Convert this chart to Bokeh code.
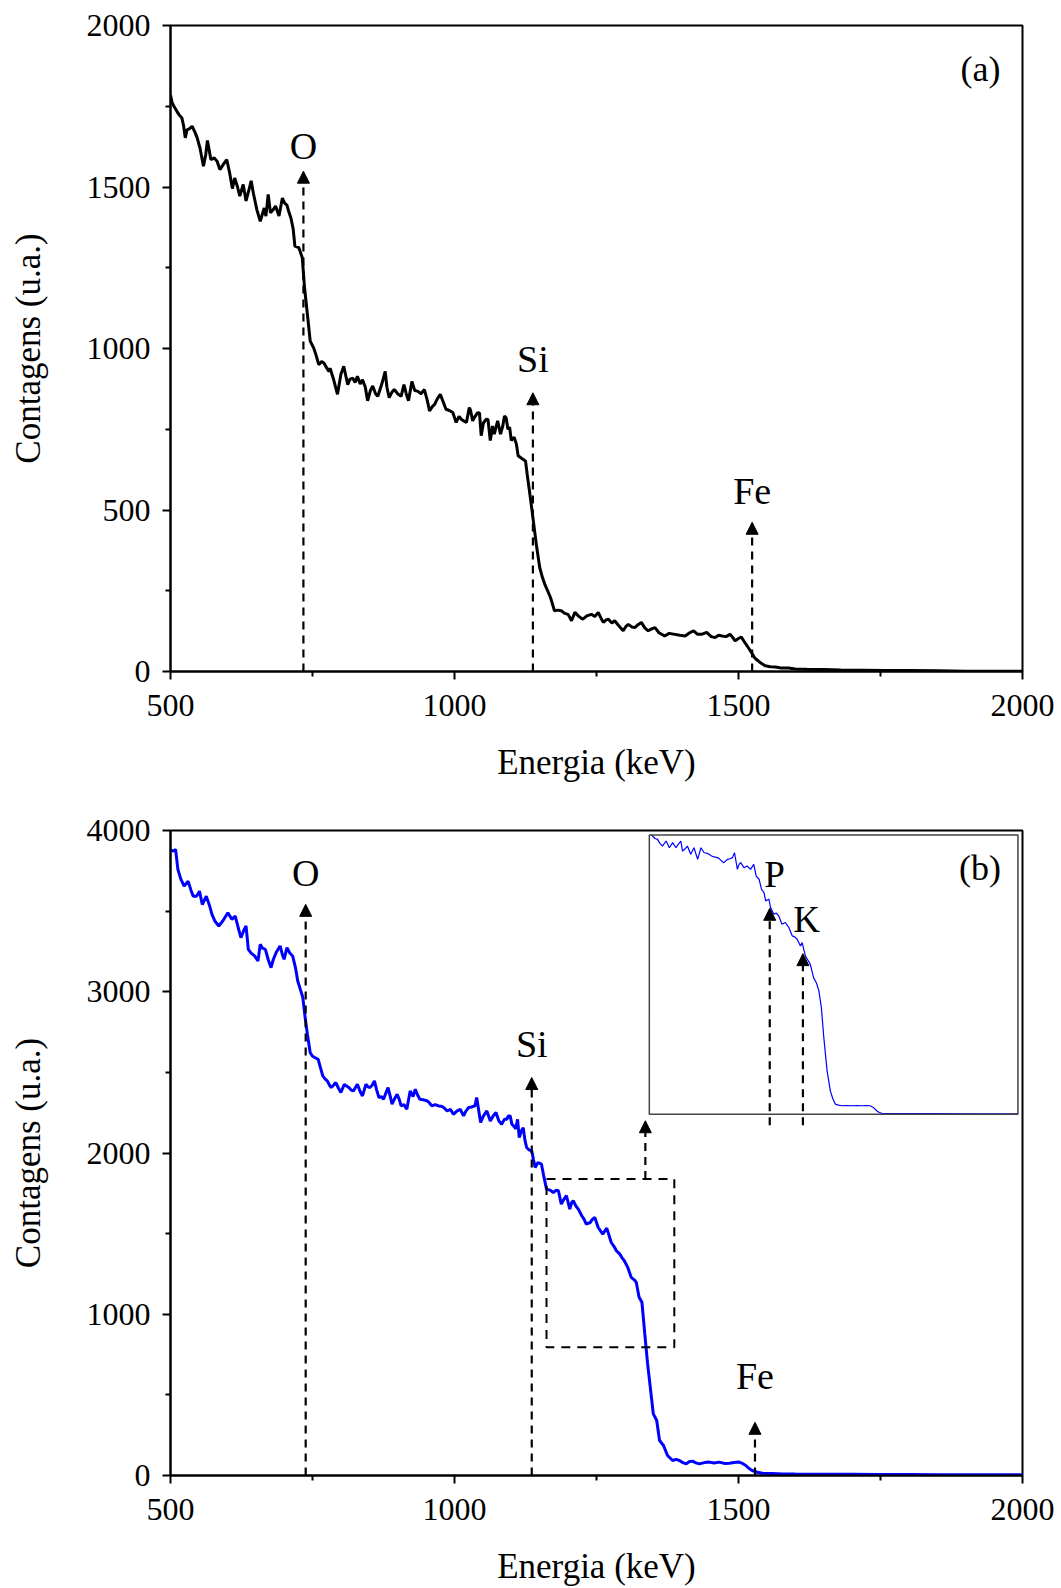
from bokeh.plotting import figure
from bokeh.layouts import column
from bokeh.models import FixedTicker, Arrow, NormalHead, BoxAnnotation, Range1d
from bokeh.core.properties import value
from bokeh.embed import file_html
from bokeh.resources import INLINE

FONT = "Liberation Serif"

# ---------------- data: panel (a) ----------------
energy_a = [500, 503, 506, 511, 515, 520, 523, 526, 529, 533, 538, 543, 547, 552, 558, 562, 565, 568, 571, 577,
            582, 587, 593, 599, 604, 609, 613, 618, 622, 628, 633, 638, 642, 646, 652, 658, 665, 668, 672, 676,
            681, 685, 691, 697, 701, 705, 708, 712, 716, 719, 726, 732, 736, 741, 746, 752, 756, 761, 766, 770,
            775, 779, 781, 787, 794, 800, 805, 812, 816, 821, 825, 829, 834, 838, 843, 847, 852, 856, 861, 865,
            872, 878, 881, 885, 890, 894, 900, 906, 911, 915, 919, 925, 930, 935, 941, 947, 952, 956, 961, 965,
            970, 975, 980, 985, 991, 997, 1003, 1008, 1012, 1017, 1021, 1026, 1028, 1032, 1035, 1040, 1044, 1047, 1051, 1056,
            1059, 1063, 1067, 1070, 1076, 1081, 1085, 1088, 1091, 1094, 1097, 1100, 1105, 1109, 1112, 1118, 1125, 1128, 1132, 1138,
            1144, 1150, 1155, 1159, 1164, 1169, 1176, 1182, 1188, 1194, 1200, 1206, 1212, 1219, 1226, 1233, 1241, 1247, 1253, 1258,
            1262, 1267, 1271, 1277, 1282, 1290, 1297, 1302, 1306, 1312, 1318, 1323, 1329, 1335, 1341, 1347, 1353, 1360, 1370, 1378,
            1388, 1397, 1406, 1414, 1421, 1428, 1435, 1444, 1452, 1459, 1465, 1471, 1478, 1485, 1490, 1494, 1500, 1505, 1511, 1518,
            1523, 1529, 1538, 1547, 1556, 1565, 1575, 1588, 1600, 1620, 1650, 1680, 1720, 1760, 1800, 1850, 1900, 1950, 2000]
counts_a = [1785, 1760, 1750, 1735, 1724, 1714, 1690, 1652, 1677, 1680, 1688, 1670, 1652, 1620, 1564, 1600, 1644, 1615, 1585, 1590,
            1580, 1554, 1570, 1585, 1545, 1495, 1528, 1500, 1472, 1508, 1457, 1490, 1519, 1480, 1430, 1394, 1435, 1410, 1477, 1420,
            1430, 1441, 1410, 1466, 1450, 1444, 1425, 1404, 1370, 1317, 1312, 1281, 1188, 1106, 1023, 1002, 981, 950, 960, 955,
            940, 929, 939, 905, 858, 920, 945, 888, 905, 908, 895, 914, 890, 903, 880, 838, 870, 884, 860, 852,
            890, 929, 880, 848, 865, 873, 860, 852, 888, 860, 838, 898, 870, 868, 860, 873, 840, 807, 820, 827,
            845, 858, 835, 812, 808, 802, 771, 790, 781, 775, 771, 817, 810, 776, 786, 800, 801, 730, 770, 781,
            780, 715, 760, 735, 776, 735, 760, 791, 785, 750, 756, 715, 725, 704, 668, 660, 652, 610, 559, 477,
            394, 322, 290, 270, 250, 229, 188, 190, 188, 180, 177, 157, 183, 170, 162, 172, 177, 170, 183, 165,
            152, 160, 162, 150, 157, 140, 126, 140, 146, 138, 136, 145, 152, 135, 126, 132, 136, 120, 110, 118,
            115, 112, 110, 120, 126, 115, 115, 121, 108, 105, 112, 110, 108, 115, 105, 95, 102, 107, 90, 72,
            58, 41, 28, 18, 15, 14, 11, 11, 8, 7, 6, 5, 4, 3, 3, 2, 1, 1, 1]

# ---------------- data: panel (b) ----------------
energy_b = [500, 505, 509, 513, 518, 524, 531, 536, 540, 546, 551, 556, 563, 569, 573, 578, 585, 592, 601, 608,
            614, 619, 624, 629, 633, 637, 642, 648, 654, 658, 662, 667, 672, 677, 681, 686, 693, 697, 700, 705,
            710, 715, 720, 724, 729, 733, 737, 741, 746, 750, 754, 760, 764, 768, 772, 776, 780, 783, 787, 791,
            796, 800, 806, 810, 814, 818, 822, 829, 834, 838, 844, 848, 851, 855, 859, 863, 867, 871, 875, 879,
            883, 887, 890, 895, 899, 903, 906, 911, 916, 922, 927, 931, 935, 939, 945, 952, 956, 960, 966, 972,
            977, 981, 987, 993, 998, 1004, 1010, 1016, 1020, 1025, 1030, 1036, 1039, 1046, 1051, 1057, 1063, 1068, 1073, 1078,
            1083, 1088, 1092, 1095, 1098, 1101, 1104, 1108, 1111, 1114, 1118, 1121, 1124, 1127, 1131, 1136, 1139, 1142, 1147, 1153,
            1157, 1162, 1168, 1174, 1179, 1183, 1188, 1192, 1197, 1203, 1206, 1209, 1214, 1218, 1224, 1228, 1232, 1239, 1243, 1247,
            1253, 1261, 1268, 1272, 1276, 1281, 1285, 1291, 1295, 1299, 1305, 1311, 1316, 1320, 1325, 1330, 1335, 1340, 1346, 1350,
            1356, 1361, 1368, 1375, 1384, 1390, 1396, 1402, 1408, 1413, 1419, 1425, 1431, 1440, 1449, 1457, 1466, 1475, 1484, 1492,
            1501, 1507, 1513, 1518, 1524, 1533, 1542, 1560, 1577, 1600, 1650, 1700, 1750, 1800, 1850, 1900, 1950, 2000]
counts_b = [3880, 3872, 3882, 3759, 3700, 3655, 3686, 3630, 3593, 3593, 3624, 3541, 3593, 3531, 3480, 3439, 3408, 3439, 3490, 3449,
            3469, 3400, 3335, 3380, 3408, 3263, 3240, 3222, 3191, 3294, 3270, 3263, 3200, 3149, 3200, 3243, 3284, 3230, 3201, 3273,
            3240, 3222, 3150, 3067, 3010, 2964, 2840, 2737, 2622, 2600, 2592, 2581, 2530, 2478, 2460, 2447, 2420, 2406, 2420, 2437,
            2400, 2375, 2426, 2415, 2406, 2390, 2385, 2426, 2380, 2354, 2426, 2410, 2406, 2420, 2447, 2390, 2344, 2350, 2333, 2370,
            2406, 2350, 2303, 2340, 2364, 2330, 2292, 2300, 2271, 2385, 2350, 2395, 2360, 2333, 2330, 2323, 2310, 2292, 2300, 2292,
            2290, 2282, 2261, 2270, 2240, 2260, 2271, 2230, 2260, 2282, 2285, 2292, 2344, 2189, 2230, 2261, 2199, 2230, 2251, 2200,
            2178, 2210, 2209, 2230, 2230, 2179, 2168, 2150, 2209, 2096, 2140, 2157, 2080, 2034, 2020, 2013, 1960, 1910, 1941, 1931,
            1860, 1776, 1770, 1755, 1770, 1766, 1683, 1710, 1735, 1652, 1690, 1704, 1670, 1652, 1611, 1590, 1559, 1569, 1590, 1600,
            1538, 1497, 1534, 1490, 1445, 1420, 1394, 1373, 1350, 1332, 1291, 1229, 1215, 1198, 1105, 1074, 878, 692, 506, 382,
            341, 217, 186, 124, 93, 100, 93, 80, 72, 85, 89, 78, 72, 80, 83, 78, 83, 75, 76, 80,
            83, 75, 62, 45, 31, 20, 14, 12, 10, 9, 8, 7, 6, 6, 5, 5, 4, 4]

# ---------------- data: inset of panel (b) (own, unlabeled scale) ----------------
energy_inset = [1104, 1108, 1114, 1120, 1126, 1132, 1141, 1149, 1157, 1165, 1171, 1177, 1181, 1187, 1193, 1201, 1209, 1218, 1226, 1234,
                1240, 1246, 1252, 1258, 1264, 1270, 1276, 1282, 1291, 1297, 1303, 1308, 1315, 1319, 1323, 1331, 1339, 1347, 1355, 1361,
                1368, 1374, 1380, 1384, 1392, 1396, 1404, 1410, 1416, 1424, 1432, 1441, 1449, 1455, 1461, 1469, 1473, 1481, 1493, 1501,
                1508, 1514, 1520, 1526, 1534, 1542, 1548, 1554, 1562, 1570, 1582, 1595, 1607, 1619, 1630, 1639, 1647, 1655, 1661, 1668,
                1700, 1750, 1800, 1900, 2000]
counts_inset = [2000, 1993, 1975, 1969, 1940, 1921, 1957, 1909, 1945, 1909, 1935, 1957, 1885, 1900, 1921, 1862, 1909, 1826, 1909, 1873,
                1870, 1862, 1850, 1843, 1840, 1833, 1815, 1802, 1826, 1830, 1838, 1873, 1754, 1790, 1802, 1766, 1778, 1754, 1790, 1706,
                1683, 1611, 1587, 1528, 1540, 1480, 1432, 1440, 1420, 1361, 1373, 1336, 1277, 1270, 1253, 1205, 1229, 1134, 1074, 978,
                940, 883, 764, 549, 310, 167, 110, 72, 65, 60, 62, 60, 61, 60, 61, 60, 48, 24, 12, 5,
                4, 3, 3, 2, 2]
inset_x_range = [1100, 2000]
inset_y_range = [0, 2000]
inset_box = [1343, 1992, 2241, 3972]          # left, right, bottom, top (panel b data units)
zoom_box = [1162, 1387, 795, 1838]             # dashed rectangle (panel b data units)

# element markers: label, x, arrow base, arrow tip, label y
elements_a = [("O", 734, 0, 1549, 1626), ("Si", 1138, 0, 863, 966), ("Fe", 1524, 0, 462, 559)]
elements_b = [("O", 738, 0, 3542, 3738), ("Si", 1136, 0, 2468, 2675), ("Fe", 1529, 0, 330, 620)]
zoom_arrow = (1336, 1838, 2200)
elements_inset = [("P", 1394, -80, 1475, 1406, 1719), ("K", 1475, -80, 1150, 1484, 1396)]
panel_a_tag = ("(a)", 1926, 1865)
panel_b_tag = ("(b)", 1925, 3769)

x_ticks = [500, 1000, 1500, 2000]
x_minor = [750, 1250, 1750]
y_ticks_a = [0, 500, 1000, 1500, 2000]
y_minor_a = [250, 750, 1250, 1750]
y_ticks_b = [0, 1000, 2000, 3000, 4000]
y_minor_b = [500, 1500, 2500, 3500]


def make_fig(ymax, yt, ym, frame_h, b_top, b_bottom):
    p = figure(frame_width=852, frame_height=frame_h, x_range=Range1d(500, 2000), y_range=Range1d(0, ymax),
               output_backend="svg", toolbar_location=None,
               min_border_left=170, min_border_right=35, min_border_top=b_top, min_border_bottom=b_bottom)
    p.grid.visible = False
    p.outline_line_color = "black"
    p.outline_line_width = 2
    p.outline_line_alpha = 1
    p.background_fill_color = "white"
    p.border_fill_color = "white"
    p.xaxis.ticker = FixedTicker(ticks=x_ticks, minor_ticks=x_minor)
    p.yaxis.ticker = FixedTicker(ticks=yt, minor_ticks=ym)
    p.xaxis.axis_label = "Energia (keV)"
    p.yaxis.axis_label = "Contagens (u.a.)"
    for ax in p.xaxis + p.yaxis:
        ax.axis_line_width = 2
        ax.axis_line_color = "black"
        ax.major_tick_line_width = 2
        ax.minor_tick_line_width = 2
        ax.major_tick_line_color = "black"
        ax.minor_tick_line_color = "black"
        ax.major_tick_out = 8
        ax.major_tick_in = 0
        ax.minor_tick_out = 5
        ax.minor_tick_in = 0
        ax.major_label_text_font = FONT
        ax.major_label_text_font_size = "32px"
        ax.major_label_text_color = "black"
        ax.axis_label_text_font = FONT
        ax.axis_label_text_font_size = "35px"
        ax.axis_label_text_font_style = "normal"
        ax.axis_label_text_color = "black"
    p.xaxis.major_label_standoff = 15
    p.xaxis.axis_label_standoff = 24
    p.yaxis.major_label_standoff = 12
    p.yaxis.axis_label_standoff = 36
    return p


def add_arrow(p, x, y0, y1, head=12):
    p.add_layout(Arrow(x_start=x, y_start=y0, x_end=x, y_end=y1, start=None,
                       end=NormalHead(size=head, fill_color="black", line_color="black", line_width=1),
                       line_color="black", line_width=2.2, line_dash="8 6"))


def add_text(p, labels, xs, ys, size):
    p.text(x=xs, y=ys, text=labels, text_font=value(FONT), text_font_size=size,
           text_align="center", text_baseline="middle", text_color="black")


# ---------------- panel (a) ----------------
p1 = make_fig(2000, y_ticks_a, y_minor_a, 646, 25, 134)
p1.line(energy_a, counts_a, line_color="black", line_width=3)
for lab, x, y0, y1, ly in elements_a:
    add_arrow(p1, x, y0, y1)
add_text(p1, [e[0] for e in elements_a], [e[1] for e in elements_a], [e[4] for e in elements_a], "38px")
add_text(p1, [panel_a_tag[0]], [panel_a_tag[1]], [panel_a_tag[2]], "36px")

# ---------------- panel (b) ----------------
p2 = make_fig(4000, y_ticks_b, y_minor_b, 645, 25, 112)
p2.line(energy_b, counts_b, line_color="#0000ff", line_width=3)
for lab, x, y0, y1, ly in elements_b:
    add_arrow(p2, x, y0, y1)
add_arrow(p2, zoom_arrow[0], zoom_arrow[1], zoom_arrow[2])
add_text(p2, [e[0] for e in elements_b], [e[1] for e in elements_b], [e[4] for e in elements_b], "38px")
add_text(p2, [panel_b_tag[0]], [panel_b_tag[1]], [panel_b_tag[2]], "36px")

p2.add_layout(BoxAnnotation(left=zoom_box[0], right=zoom_box[1], bottom=zoom_box[2], top=zoom_box[3],
                            fill_alpha=0, line_color="black", line_alpha=1, line_width=2, line_dash="9 7"))
p2.add_layout(BoxAnnotation(left=inset_box[0], right=inset_box[1], bottom=inset_box[2], top=inset_box[3],
                            fill_alpha=0, line_color="#444444", line_alpha=1, line_width=1.5))

sub = p2.subplot(x_source=Range1d(*inset_x_range), y_source=Range1d(*inset_y_range),
                 x_target=Range1d(inset_box[0], inset_box[1]), y_target=Range1d(inset_box[2], inset_box[3]))
r_in = sub.line(energy_inset, counts_inset, line_color="#0000ff", line_width=1.2)
mapping = r_in.coordinates
for lab, x, y0, y1, lx, ly in elements_inset:
    sub.segment(x0=[x], y0=[y0], x1=[x], y1=[y1 - 60], line_color="black", line_width=2.2, line_dash="8 6")
    p2.add_layout(Arrow(x_start=x, y_start=y0, x_end=x, y_end=y1, start=None,
                        end=NormalHead(size=12, fill_color="black", line_color="black", line_width=1),
                        line_alpha=0, coordinates=mapping))
sub.text(x=[e[4] for e in elements_inset], y=[e[5] for e in elements_inset], text=[e[0] for e in elements_inset],
         text_font=value(FONT), text_font_size="37px", text_align="center", text_baseline="middle", text_color="black")

layout = column(p1, p2)
open("out.html", "w").write(file_html(layout, INLINE))
